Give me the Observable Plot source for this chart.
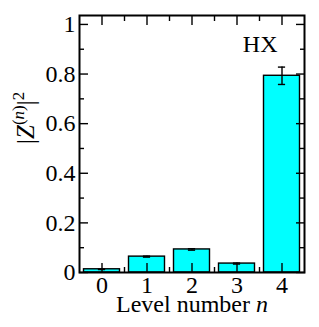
<!DOCTYPE html>
<html><head><meta charset="utf-8">
<script src="https://cdn.jsdelivr.net/npm/d3@7"></script>
<script src="https://cdn.jsdelivr.net/npm/@observablehq/plot@0.6"></script>
<style>body{margin:0;background:#fff}</style>
</head><body><div id="chart"></div>
<script>
const levels = [0, 1, 2, 3, 4];
const values = [0.013, 0.064, 0.093, 0.036, 0.793];
const errors = [0.001, 0.002, 0.003, 0.002, 0.035];
const yMajor = [0, 0.2, 0.4, 0.6, 0.8, 1];
const yMinor = [0.1, 0.3, 0.5, 0.7, 0.9];
const xMajor = [0, 1, 2, 3, 4];
const xMinor = [0.5, 1.5, 2.5, 3.5];
const yLabel = "|Z(n)|2";
const xLabel = "Level number n";
const tag = "HX";

const data = levels.map((n, i) => ({n, v: values[i], e: errors[i]}));
const font = "Liberation Serif";
const sw = 1.4;
const noText = () => "";
const ax = {label: null, strokeWidth: sw, fontFamily: font, fontSize: 24, fontVariant: "normal"};

const plot = Plot.plot({
  width: 319, height: 327,
  marginLeft: 79, marginRight: 15, marginTop: 15, marginBottom: 55,
  style: {fontFamily: font, fontSize: "24px", background: "white", color: "black"},
  x: {domain: [-0.5, 4.5]},
  y: {domain: [0, 1.036]},
  marks: [
    Plot.rectY(data, {x1: d => d.n - 0.4, x2: d => d.n + 0.4, y: "v", fill: "#00ffff", stroke: "black", strokeWidth: sw}),
    Plot.ruleX(data, {x: "n", y1: d => d.v - d.e, y2: d => d.v + d.e, stroke: "black", strokeWidth: sw}),
    Plot.ruleY(data, {y: d => d.v + d.e, x1: d => d.n - 0.08, x2: d => d.n + 0.08, stroke: "black", strokeWidth: sw}),
    Plot.ruleY(data, {y: d => d.v - d.e, x1: d => d.n - 0.08, x2: d => d.n + 0.08, stroke: "black", strokeWidth: sw}),
    Plot.axisY({...ax, ticks: yMajor, anchor: "left", tickSize: -9, tickPadding: 13, tickFormat: d => String(d)}),
    Plot.axisY({...ax, ticks: yMinor, anchor: "left", tickSize: -5, tickFormat: noText}),
    Plot.axisY({...ax, ticks: yMajor, anchor: "right", tickSize: -9, tickFormat: noText}),
    Plot.axisY({...ax, ticks: yMinor, anchor: "right", tickSize: -5, tickFormat: noText}),
    Plot.axisX({...ax, ticks: xMajor, anchor: "bottom", tickSize: -9, tickPadding: 12, tickFormat: d => String(d)}),
    Plot.axisX({...ax, ticks: xMinor, anchor: "bottom", tickSize: -5, tickFormat: noText}),
    Plot.axisX({...ax, ticks: xMajor, anchor: "top", tickSize: -9, tickFormat: noText}),
    Plot.axisX({...ax, ticks: xMinor, anchor: "top", tickSize: -5, tickFormat: noText}),
    Plot.frame({stroke: "black", strokeWidth: 2}),
    Plot.text([tag], {frameAnchor: "top-right", lineAnchor: "middle", dx: -27, dy: 29, fontSize: 24, textAnchor: "end", fontFamily: font}),
    Plot.text([yLabel], {frameAnchor: "left", lineAnchor: "middle", dx: -54, rotate: -90, fontSize: 25, fontFamily: font}),
    Plot.text([xLabel], {frameAnchor: "bottom", lineAnchor: "middle", dy: 32, fontSize: 24, fontFamily: font})
  ]
});
document.getElementById("chart").appendChild(plot);

plot.querySelectorAll("text").forEach(t => {
  if (t.textContent === yLabel) {
    t.innerHTML = '|<tspan font-style="italic">Z</tspan><tspan dy="-10" font-size="17">(</tspan><tspan font-size="17" font-style="italic">n</tspan><tspan font-size="17">)</tspan><tspan dy="10">|</tspan><tspan dy="-10" font-size="17">2</tspan>';
  } else if (t.textContent === xLabel) {
    t.innerHTML = 'Level number <tspan font-style="italic">n</tspan>';
  }
});
</script>
</body></html>
